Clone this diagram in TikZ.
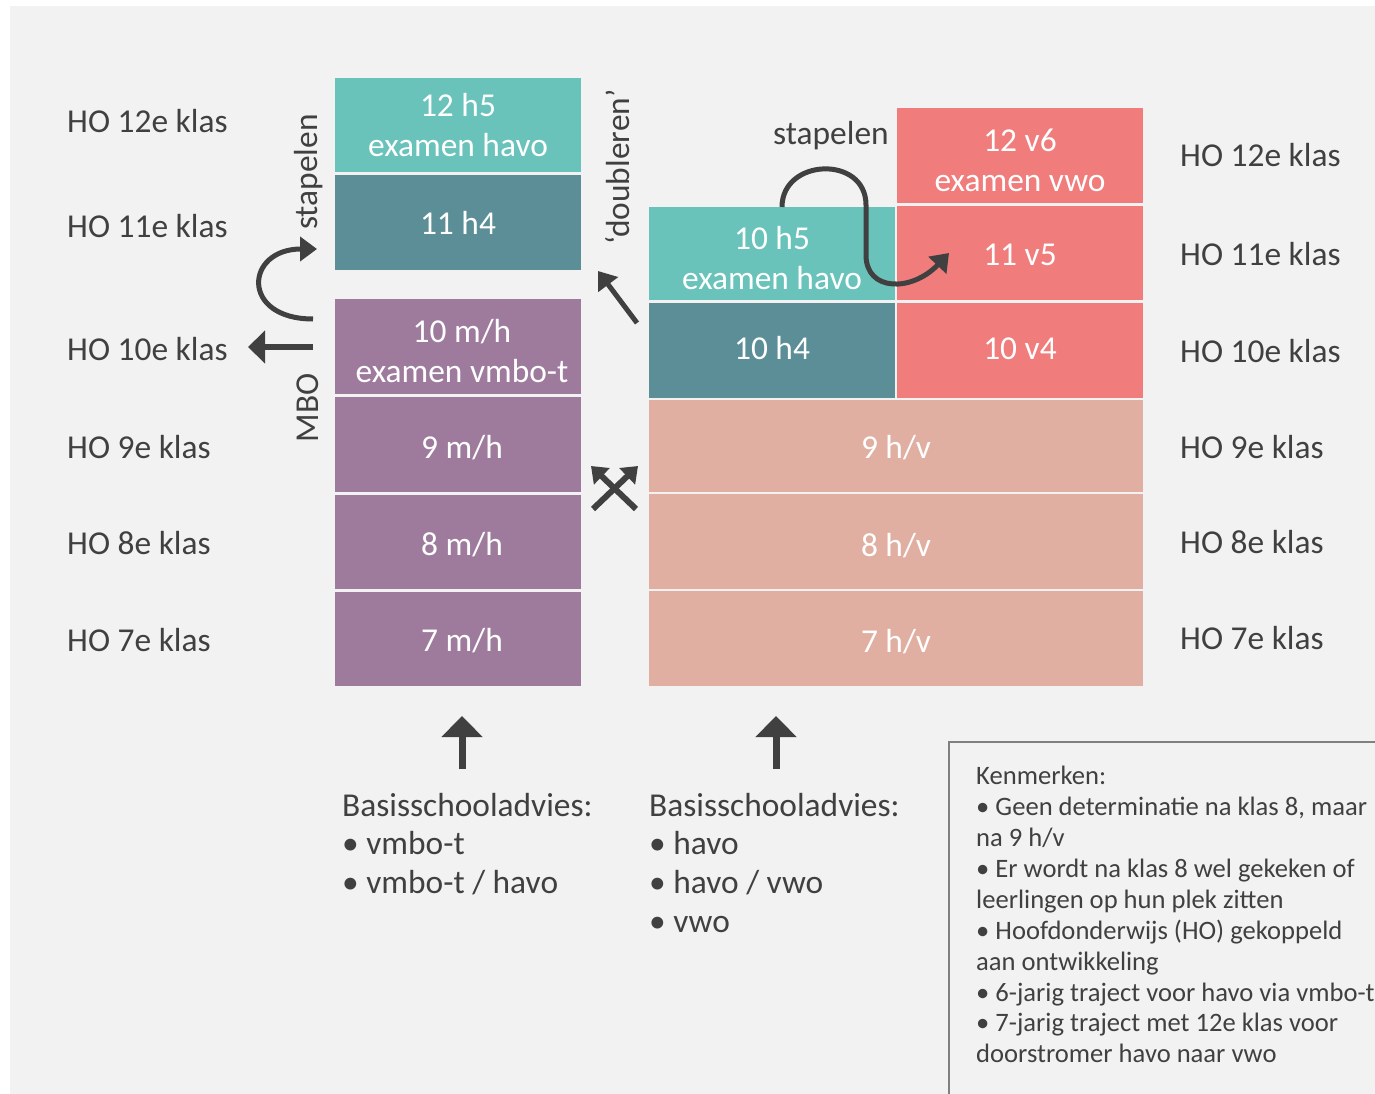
\documentclass[tikz,border=0pt]{standalone}
\usepackage{fontspec}
\setmainfont{Carlito}
\usetikzlibrary{arrows.meta}
\definecolor{bg}{HTML}{F2F2F2}
\definecolor{txt}{HTML}{404040}
\definecolor{tealA}{HTML}{69C3BA}
\definecolor{tealB}{HTML}{5B8E97}
\definecolor{purp}{HTML}{9E7B9D}
\definecolor{redA}{HTML}{F07C7C}
\definecolor{salm}{HTML}{E0AFA1}
\definecolor{legline}{HTML}{808080}
\tikzset{
  box/.style={inner sep=0pt, outer sep=0pt, draw=none},
  btxt/.style={inner sep=0pt, text=white, align=center, font=\fontsize{33.4}{40}\selectfont},
  lab/.style={anchor=base west, text=txt, inner sep=0pt, font=\fontsize{33.4}{40}\selectfont},
  rot/.style={rotate=90, text=txt, inner sep=0pt, font=\fontsize{33.4}{40}\selectfont},
  leg/.style={anchor=base west, text=txt, inner sep=0pt, font=\fontsize{26.6}{31}\selectfont},
  arr/.style={draw=txt, line width=5pt, -{Triangle[width=24pt,length=17pt]}},
  xarr/.style={draw=txt, line width=6pt, -{Triangle[width=22pt,length=15pt]}},
  uparr/.style={draw=txt, line width=7pt, -{Triangle[width=40pt,length=21pt]}},
}
\begin{document}
\begin{tikzpicture}[x=1pt,y=-1pt]
\useasboundingbox (0,0) rectangle (1375,1094);
\clip (0,0) rectangle (1375,1094);
\fill[bg] (10,6) rectangle (1380,1100);

% left column boxes
\node[box, fill=tealA, minimum width=246pt, minimum height=94pt] (b12h) at (458,125) {};
\node[box, fill=tealB, minimum width=246pt, minimum height=95pt] (b11h) at (458,222.5) {};
\node[box, fill=purp, minimum width=246pt, minimum height=95pt] (b10m) at (458,346.5) {};
\node[box, fill=purp, minimum width=246pt, minimum height=95pt] (b9m) at (458,444.5) {};
\node[box, fill=purp, minimum width=246pt, minimum height=94pt] (b8m) at (458,542) {};
\node[box, fill=purp, minimum width=246pt, minimum height=94pt] (b7m) at (458,639) {};

% right column boxes
\node[box, fill=redA, minimum width=246pt, minimum height=95pt] (b12v) at (1020,155.5) {};
\node[box, fill=tealA, minimum width=246pt, minimum height=93pt] (b10h5) at (772,253.5) {};
\node[box, fill=redA, minimum width=246pt, minimum height=94pt] (b11v) at (1020,253) {};
\node[box, fill=tealB, minimum width=246pt, minimum height=95pt] (b10h4) at (772,350.5) {};
\node[box, fill=redA, minimum width=246pt, minimum height=95pt] (b10v) at (1020,350.5) {};
\node[box, fill=salm, minimum width=494pt, minimum height=92pt] (b9hv) at (896,446) {};
\node[box, fill=salm, minimum width=494pt, minimum height=95pt] (b8hv) at (896,541.5) {};
\node[box, fill=salm, minimum width=494pt, minimum height=95pt] (b7hv) at (896,638.5) {};

% box texts
\node[btxt] (t12h) at (b12h.center) {12 h5\\examen havo};
\node[btxt] (t11h) at (b11h.center) {11 h4};
\node[btxt] (t10m) at ([xshift=4pt,yshift=-5pt]b10m.center) {10 m/h\\examen vmbo-t};
\node[btxt] (t9m) at ([xshift=4pt,yshift=-3pt]b9m.center) {9 m/h};
\node[btxt] (t8m) at ([xshift=4pt,yshift=-3pt]b8m.center) {8 m/h};
\node[btxt] (t7m) at ([xshift=4pt,yshift=-2pt]b7m.center) {7 m/h};
\node[btxt] (t12v) at ([yshift=-5pt]b12v.center) {12 v6\\examen vwo};
\node[btxt] (t10h5) at ([yshift=-4.5pt]b10h5.center) {10 h5\\examen havo};
\node[btxt] (t11v) at ([yshift=-2pt]b11v.center) {11 v5};
\node[btxt] (t10h4) at ([yshift=2pt]b10h4.center) {10 h4};
\node[btxt] (t10v) at ([yshift=2pt]b10v.center) {10 v4};
\node[btxt] (t9hv) at ([yshift=-2pt]b9hv.center) {9 h/v};
\node[btxt] (t8hv) at ([yshift=-4pt]b8hv.center) {8 h/v};
\node[btxt] (t7hv) at ([yshift=-3pt]b7hv.center) {7 h/v};

% row labels
\node[lab] (l12) at (67,133) {HO 12e klas};
\node[lab] (l11) at (67,237) {HO 11e klas};
\node[lab] (l10) at (67,360) {HO 10e klas};
\node[lab] (l9) at (67,458) {HO 9e klas};
\node[lab] (l8) at (67,554) {HO 8e klas};
\node[lab] (l7) at (67,651) {HO 7e klas};
\node[lab] (r12) at (1180,167) {HO 12e klas};
\node[lab] (r11) at (1180,265) {HO 11e klas};
\node[lab] (r10) at (1180,362) {HO 10e klas};
\node[lab] (r9) at (1180,458) {HO 9e klas};
\node[lab] (r8) at (1180,553) {HO 8e klas};
\node[lab] (r7) at (1180,649) {HO 7e klas};

% side texts
\node[rot] (stapL) at (309,172) {stapelen};
\node[rot] (mbo) at (308,408) {MBO};
\node[rot] (doub) at (618,167) {‘doubleren’};
\node[lab] (stapR) at (773,145) {stapelen};

% arrows left
\coordinate (cs1) at (313,319);
\coordinate (ce1) at (317,249);
\draw[arr] (cs1) .. controls (240,319) and (245,249) .. (ce1);
\coordinate (ms) at (313,347);
\coordinate (me) at (248,347);
\draw[draw=txt, line width=6pt, -{Triangle[width=32pt,length=17pt]}] (ms) -- (me);

% doubleren arrow
\coordinate (ds) at (637,323);
\coordinate (de) at (598,271);
\draw[arr] (ds) -- (de);

% crossed arrows
\coordinate (x1s) at (636,509);
\coordinate (x1e) at (591,466);
\coordinate (x2s) at (593,509);
\coordinate (x2e) at (638,466);
\draw[xarr] (x1s) -- (x1e);
\draw[xarr] (x2s) -- (x2e);

% stapelen S-curve
\coordinate (ss) at (782,207);
\coordinate (se) at (949,253);
\draw[arr] (ss) .. controls (782,158) and (866,155) .. (866,205) -- (866,255) .. controls (866,292) and (912,292) .. (se);

% bottom arrows
\coordinate (u1s) at (462,769);
\coordinate (u1e) at (462,716);
\coordinate (u2s) at (776,769);
\coordinate (u2e) at (776,716);
\draw[uparr] (u1s) -- (u1e);
\draw[uparr] (u2s) -- (u2e);

% bottom texts
\node[lab] (ba1) at (342,816) {Basisschooladvies:};
\node[lab] (ba2) at (342,854) {• vmbo-t};
\node[lab] (ba3) at (342,893) {• vmbo-t / havo};
\node[lab] (bb1) at (649,816) {Basisschooladvies:};
\node[lab] (bb2) at (649,854) {• havo};
\node[lab] (bb3) at (649,893) {• havo / vwo};
\node[lab] (bb4) at (649,932) {• vwo};

% legend
\draw[legline, line width=1.5pt] (1400,742) -- (949,742) -- (949,1110);
\node[leg] (k1) at (976,784) {Kenmerken:};
\node[leg] (k2) at (976,815) {• Geen determinatie na klas 8, maar};
\node[leg] (k3) at (976,846) {na 9 h/v};
\node[leg] (k4) at (976,877) {• Er wordt na klas 8 wel gekeken of};
\node[leg] (k5) at (976,908) {leerlingen op hun plek zitten};
\node[leg] (k6) at (976,939) {• Hoofdonderwijs (HO) gekoppeld};
\node[leg] (k7) at (976,970) {aan ontwikkeling};
\node[leg] (k8) at (976,1001) {• 6-jarig traject voor havo via vmbo-t};
\node[leg] (k9) at (976,1031) {• 7-jarig traject met 12e klas voor};
\node[leg] (k10) at (976,1062) {doorstromer havo naar vwo};
\end{tikzpicture}
\end{document}
